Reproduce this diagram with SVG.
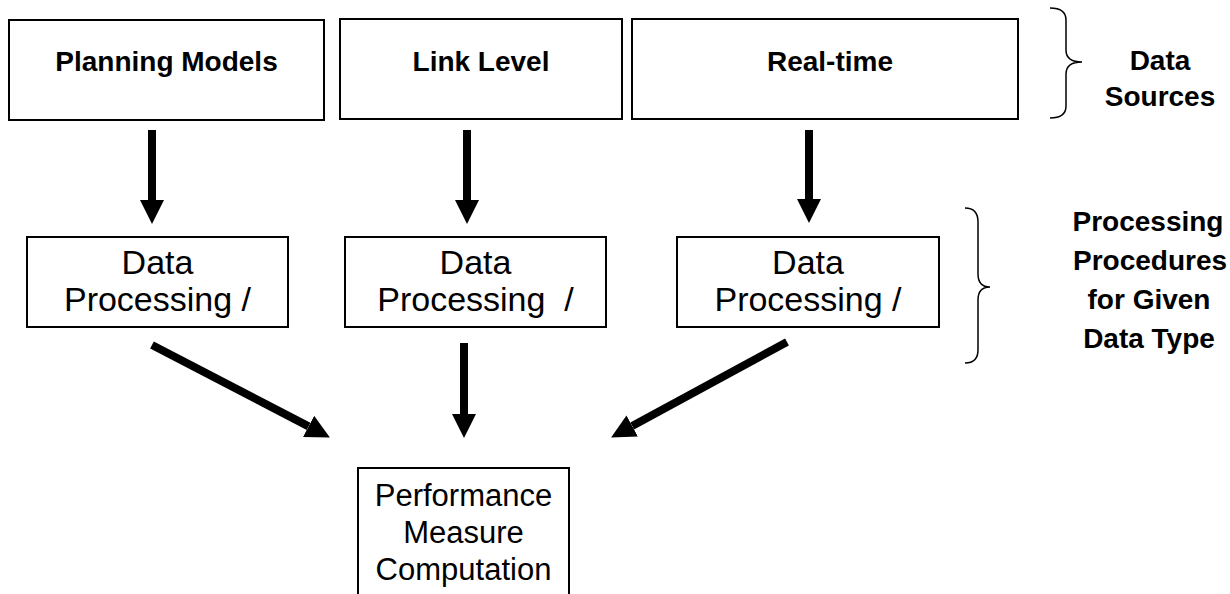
<svg xmlns="http://www.w3.org/2000/svg" width="1230" height="594" viewBox="0 0 1230 594">
<style>
  .box { fill: #ffffff; stroke: #000000; stroke-width: 2; }
  .bold { font-family: "Liberation Sans", Arial, sans-serif; font-weight: bold; font-size: 28px; fill: #000; text-anchor: middle; }
  .reg { font-family: "Liberation Sans", Arial, sans-serif; font-size: 34px; fill: #000; text-anchor: middle; white-space: pre; }
  .perf { font-family: "Liberation Sans", Arial, sans-serif; font-size: 31px; fill: #000; text-anchor: middle; }
  .arrow { stroke: #000; stroke-width: 8; fill: none; marker-end: url(#head); }
  .brace { stroke: #000; stroke-width: 1.5; fill: none; }
</style>
<defs>
  <marker id="head" viewBox="0 0 24 24" refX="0" refY="12" markerWidth="24" markerHeight="24" markerUnits="userSpaceOnUse" orient="auto">
    <path d="M0,0 L24,12 L0,24 z" fill="#000"/>
  </marker>
</defs>
<rect width="1230" height="594" fill="#fff"/>

<g id="planning-models">
  <rect class="box" x="9" y="20" width="315" height="100"/>
  <text class="bold" x="166.5" y="71">Planning Models</text>
</g>
<g id="link-level">
  <rect class="box" x="340" y="19" width="282" height="100"/>
  <text class="bold" x="481" y="71">Link Level</text>
</g>
<g id="real-time">
  <rect class="box" x="632" y="19" width="386" height="100"/>
  <text class="bold" x="830" y="71">Real-time</text>
</g>

<g id="data-sources-label">
  <path class="brace" d="M1050,8 Q1066,8 1066,20 L1066,50 Q1066,62 1082,62 Q1066,62 1066,74 L1066,106 Q1066,118 1050,118"/>
  <text class="bold" x="1160" y="70">Data</text>
  <text class="bold" x="1160" y="106">Sources</text>
</g>

<g id="proc-a">
  <rect class="box" x="27" y="237" width="261" height="90"/>
  <text class="reg" x="157.5" y="274">Data</text>
  <text class="reg" x="157.5" y="311">Processing /</text>
</g>
<g id="proc-b">
  <rect class="box" x="345" y="237" width="261" height="90"/>
  <text class="reg" x="475.5" y="274">Data</text>
  <text class="reg" x="475.5" y="311" xml:space="preserve">Processing  /</text>
</g>
<g id="proc-c">
  <rect class="box" x="677" y="237" width="262" height="90"/>
  <text class="reg" x="808" y="274">Data</text>
  <text class="reg" x="808" y="311">Processing /</text>
</g>

<g id="processing-label">
  <path class="brace" d="M965,208 Q978,208 978,222 L978,274 Q978,287 990,287 Q978,287 978,300 L978,350 Q978,363 965,363"/>
  <text class="bold" x="1148" y="231">Processing</text>
  <text class="bold" x="1150" y="270">Procedures</text>
  <text class="bold" x="1149" y="309">for Given</text>
  <text class="bold" x="1149" y="348">Data Type</text>
</g>

<g id="performance">
  <rect class="box" x="358" y="468" width="211" height="140"/>
  <text class="perf" x="463.5" y="506">Performance</text>
  <text class="perf" x="463.5" y="543">Measure</text>
  <text class="perf" x="463.5" y="580">Computation</text>
</g>

<g id="connectors">
  <line class="arrow" x1="152" y1="130" x2="152" y2="200"/>
  <line class="arrow" x1="467" y1="130" x2="467" y2="200"/>
  <line class="arrow" x1="809" y1="130" x2="809" y2="199"/>
  <line class="arrow" x1="152" y1="345" x2="308.6" y2="426.4"/>
  <line class="arrow" x1="464" y1="343" x2="464" y2="414"/>
  <line class="arrow" x1="787" y1="342" x2="632.2" y2="426"/>
</g>
</svg>
